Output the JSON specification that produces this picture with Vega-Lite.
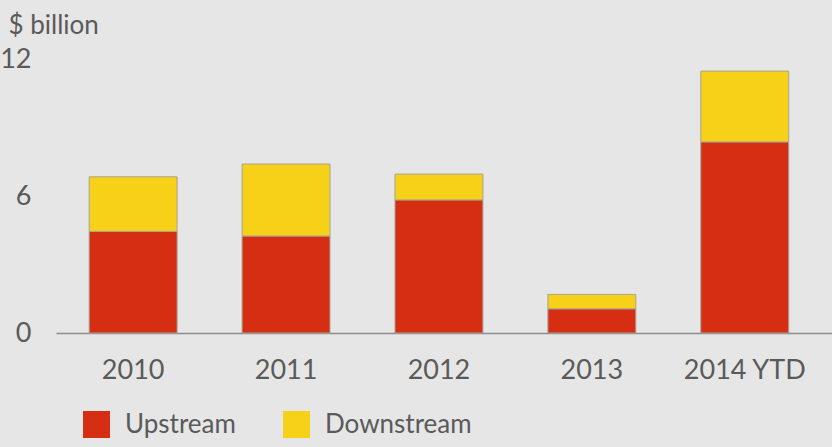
{
  "$schema": "https://vega.github.io/schema/vega-lite/v6.json",
  "autosize": {"type": "none"},
  "width": 776,
  "height": 274,
  "padding": {"left": 56, "top": 59, "right": 0, "bottom": 114},
  "background": "#e6e6e6",
  "config": {
    "view": {"stroke": null},
    "font": "Lato",
    "text": {"font": "Lato"}
  },
  "data": {
    "values": [
      {"year": "2010", "type": "Upstream", "value": 4.45},
      {"year": "2010", "type": "Downstream", "value": 2.39},
      {"year": "2011", "type": "Upstream", "value": 4.25},
      {"year": "2011", "type": "Downstream", "value": 3.15},
      {"year": "2012", "type": "Upstream", "value": 5.83},
      {"year": "2012", "type": "Downstream", "value": 1.13},
      {"year": "2013", "type": "Upstream", "value": 1.06},
      {"year": "2013", "type": "Downstream", "value": 0.63},
      {"year": "2014 YTD", "type": "Upstream", "value": 8.37},
      {"year": "2014 YTD", "type": "Downstream", "value": 3.1}
    ]
  },
  "mark": {"type": "bar", "stroke": "#a8a296", "strokeWidth": 1},
  "encoding": {
    "x": {
      "field": "year",
      "type": "nominal",
      "sort": null,
      "scale": {"paddingInner": 0.425, "paddingOuter": 0.25, "align": 0.434},
      "axis": {
        "title": null,
        "labelAngle": 0,
        "labelFontSize": 27,
        "labelColor": "#5a5a5a",
        "labelPadding": 24,
        "ticks": false,
        "domainColor": "#8c8c8c",
        "domainWidth": 1.5
      }
    },
    "y": {
      "field": "value",
      "type": "quantitative",
      "stack": "zero",
      "scale": {"domain": [0, 12], "nice": false},
      "axis": {
        "values": [0, 6, 12],
        "grid": false,
        "domain": false,
        "ticks": false,
        "labelFontSize": 27,
        "labelColor": "#5a5a5a",
        "labelPadding": 25,
        "title": "$ billion",
        "titleAngle": 0,
        "titleAlign": "left",
        "titleBaseline": "alphabetic",
        "titleX": -48,
        "titleY": -26,
        "titleFontSize": 26,
        "titleFontWeight": "normal",
        "titleColor": "#5a5a5a"
      }
    },
    "color": {
      "field": "type",
      "type": "nominal",
      "scale": {"domain": ["Upstream", "Downstream"], "range": ["#d52e12", "#f7d117"]},
      "legend": {
        "title": null,
        "orient": "none",
        "legendX": 27,
        "legendY": 352,
        "direction": "horizontal",
        "symbolType": "square",
        "symbolSize": 729,
        "symbolStrokeWidth": 0,
        "symbolOpacity": 1,
        "labelFontSize": 26,
        "labelColor": "#5a5a5a",
        "labelOffset": 15,
        "columnPadding": 47
      }
    },
    "order": {"field": "type", "sort": "descending"}
  }
}
